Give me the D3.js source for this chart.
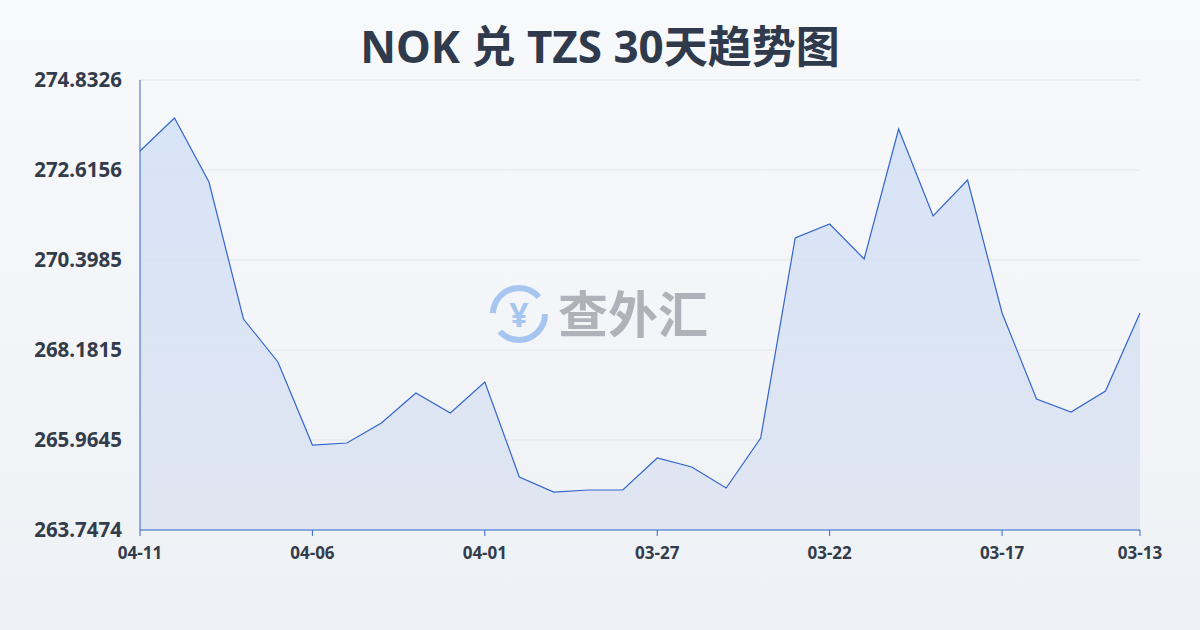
<!DOCTYPE html>
<html><head><meta charset="utf-8">
<script src="https://cdn.jsdelivr.net/npm/d3@7"></script>
<style>body{margin:0;}svg{display:block;font-family:"Noto Sans","Noto Sans CJK SC",sans-serif;}</style>
</head><body>
<script>
const dates = ["04-11","04-10","04-09","04-08","04-07","04-06","04-05","04-04","04-03","04-02","04-01","03-31","03-30","03-29","03-28","03-27","03-26","03-25","03-24","03-23","03-22","03-21","03-20","03-19","03-18","03-17","03-16","03-15","03-14","03-13"];
const rates = [273.084,273.897,272.320,268.945,267.886,265.841,265.890,266.383,267.122,266.629,267.393,265.053,264.683,264.733,264.733,265.521,265.299,264.782,266.014,270.940,271.285,270.423,273.625,271.482,272.369,269.093,266.974,266.654,267.171,269.093];
const yTicks = [263.7474,265.9645,268.1815,270.3985,272.6156,274.8326];
const xTickLabels = ["04-11","04-06","04-01","03-27","03-22","03-17","03-13"];

const W = 1200, H = 630;
const svg = d3.select("body").append("svg").attr("width", W).attr("height", H);
const defs = svg.append("defs");
const bg = defs.append("linearGradient").attr("id","bg").attr("x1",0).attr("y1",0).attr("x2",0).attr("y2",1);
bg.append("stop").attr("offset","0").attr("stop-color","#f8f9fb");
bg.append("stop").attr("offset","1").attr("stop-color","#eef1f5");
const ag = defs.append("linearGradient").attr("id","ag").attr("x1",0).attr("y1",0).attr("x2",0).attr("y2",1);
ag.append("stop").attr("offset","0").attr("stop-color","#d2e0f7");
ag.append("stop").attr("offset","1").attr("stop-color","#dde3f0");
svg.append("rect").attr("width",W).attr("height",H).attr("fill","url(#bg)");

svg.append("text").attr("x",600).attr("y",63).attr("text-anchor","middle")
  .attr("font-size",44).attr("font-weight","bold").attr("fill","#2f3a4c").text("NOK 兑 TZS 30天趋势图");

const x = d3.scaleLinear().domain([0, dates.length-1]).range([140,1140]);
const y = d3.scaleLinear().domain([yTicks[0], yTicks[yTicks.length-1]]).range([530,80]);

svg.append("g").selectAll("line").data(yTicks).join("line")
  .attr("x1",140).attr("x2",1140).attr("y1",d=>y(d)).attr("y2",d=>y(d))
  .attr("stroke","#e2e5ea").attr("stroke-width",1);
svg.append("g").selectAll("text").data(yTicks).join("text")
  .attr("x",122).attr("y",d=>y(d)+7).attr("text-anchor","end")
  .attr("font-size",20.5).attr("font-weight","bold").attr("fill","#333c4a").text(d=>d.toFixed(4));

// watermark
const wm = svg.append("g").attr("opacity",0.45);
wm.append("circle").attr("cx",519).attr("cy",314).attr("r",26).attr("fill","none").attr("stroke","#4a8ee8").attr("stroke-width",6).attr("stroke-dasharray","62 20");
wm.append("text").attr("x",519).attr("y",327).attr("text-anchor","middle").attr("font-size",34).attr("font-weight","bold").attr("fill","#4a8ee8").text("¥");
wm.append("text").attr("x",558).attr("y",333).attr("font-size",50).attr("font-weight","bold").attr("fill","#5f636c").text("查外汇");

const area = d3.area().x((d,i)=>x(i)).y0(530).y1(d=>y(d));
const line = d3.line().x((d,i)=>x(i)).y(d=>y(d));
svg.append("path").datum(rates).attr("d",area).attr("fill","url(#ag)").attr("opacity",0.85);
svg.append("path").datum(rates).attr("d",line).attr("fill","none").attr("stroke","#3366cc").attr("stroke-width",1.2);

svg.append("line").attr("x1",140).attr("x2",1140).attr("y1",530).attr("y2",530).attr("stroke","#3366cc");
svg.append("line").attr("x1",140).attr("x2",140).attr("y1",80).attr("y2",530).attr("stroke","#3366cc");
const xt = svg.append("g").selectAll("g").data(xTickLabels).join("g")
  .attr("transform",d=>`translate(${x(dates.indexOf(d))},530)`);
xt.append("line").attr("y2",6).attr("stroke","#3366cc");
xt.append("text").attr("y",29).attr("text-anchor","middle").attr("font-size",17).attr("font-weight","bold").attr("fill","#333c4a").text(d=>d);
</script>
</body></html>
